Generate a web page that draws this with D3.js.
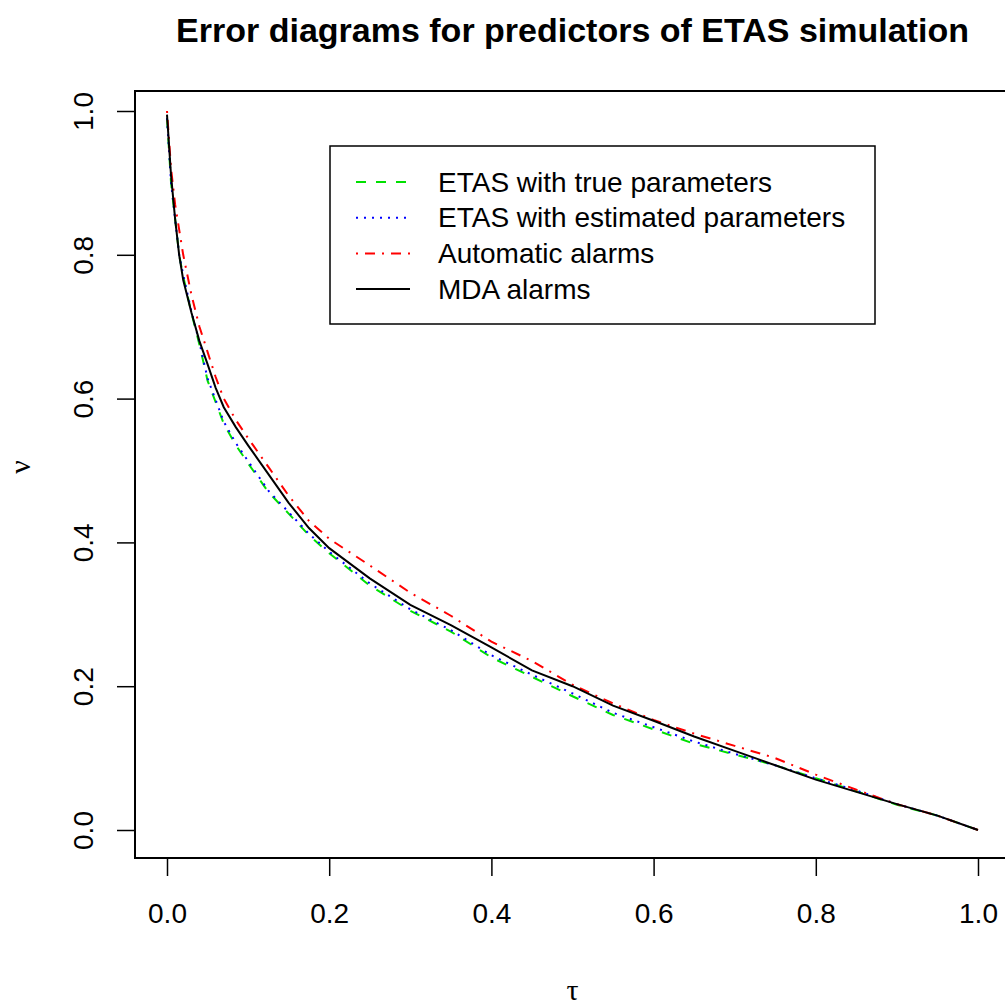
<!DOCTYPE html>
<html>
<head>
<meta charset="utf-8">
<script src="https://cdn.jsdelivr.net/npm/d3@7"></script>
<style>
  body { margin: 0; background: #fff; }
  svg { display: block; }
</style>
</head>
<body>
<div id="chart"></div>
<script>
// tau grid shared by the four error curves
const tau = [0, 0.005, 0.01, 0.015, 0.02, 0.03, 0.04, 0.05, 0.06, 0.07, 0.085, 0.1, 0.125, 0.15, 0.175, 0.2, 0.25,
  0.3, 0.35, 0.4, 0.45, 0.5, 0.55, 0.6, 0.65, 0.7, 0.75, 0.8, 0.85, 0.9, 0.95, 1.0];

const etasTrue = [0.99, 0.90, 0.85, 0.80, 0.77, 0.72, 0.675, 0.625, 0.595, 0.565, 0.535, 0.51, 0.47, 0.44, 0.41, 0.385, 0.34,
  0.305, 0.276, 0.24, 0.213, 0.186, 0.16, 0.14, 0.12, 0.105, 0.09, 0.072, 0.054, 0.035, 0.02, 0.0];
const etasEst = [0.99, 0.90, 0.85, 0.80, 0.772, 0.722, 0.678, 0.628, 0.598, 0.568, 0.538, 0.513, 0.472, 0.442, 0.412, 0.387, 0.343,
  0.307, 0.278, 0.243, 0.216, 0.19, 0.163, 0.143, 0.123, 0.106, 0.09, 0.072, 0.055, 0.036, 0.02, 0.0];
const autoAlarm = [1.0, 0.92, 0.87, 0.835, 0.80, 0.745, 0.70, 0.665, 0.63, 0.60, 0.57, 0.545, 0.505, 0.465, 0.43, 0.405, 0.368,
  0.33, 0.298, 0.262, 0.235, 0.202, 0.176, 0.153, 0.134, 0.117, 0.1, 0.077, 0.056, 0.036, 0.02, 0.0];
const mdaAlarm = [0.995, 0.91, 0.85, 0.80, 0.765, 0.72, 0.68, 0.648, 0.615, 0.588, 0.56, 0.535, 0.495, 0.455, 0.42, 0.392, 0.35,
  0.313, 0.285, 0.254, 0.222, 0.2, 0.173, 0.152, 0.13, 0.11, 0.09, 0.07, 0.053, 0.036, 0.02, 0.0];

const xTicks = [0, 0.2, 0.4, 0.6, 0.8, 1.0];
const yTicks = [0, 0.2, 0.4, 0.6, 0.8, 1.0];

const series = [
  { name: "ETAS with true parameters", values: etasTrue, color: "#00e000", dash: "10,10" },
  { name: "ETAS with estimated parameters", values: etasEst, color: "#0000ff", dash: "2,6" },
  { name: "Automatic alarms", values: autoAlarm, color: "#ff0000", dash: "2,7,10,7" },
  { name: "MDA alarms", values: mdaAlarm, color: "#000000", dash: null }
];

const width = 1005, height = 1005;
const box = { left: 135, right: 1010, top: 91, bottom: 858 };
const sans = "'Liberation Sans', Arial, sans-serif";

const svg = d3.select("#chart").append("svg")
  .attr("width", width)
  .attr("height", height)
  .style("font-family", sans);

const x = d3.scaleLinear().domain([0, 1]).range([167, 978]);
const y = d3.scaleLinear().domain([0, 1]).range([830, 111]);

// plot frame
svg.append("rect")
  .attr("x", box.left).attr("y", box.top)
  .attr("width", box.right - box.left).attr("height", box.bottom - box.top)
  .attr("fill", "none").attr("stroke", "#000").attr("stroke-width", 2);

// axes
const xAxis = svg.append("g")
  .attr("transform", "translate(0," + box.bottom + ")")
  .call(d3.axisBottom(x).tickValues(xTicks).tickSize(18).tickFormat(d3.format(".1f")));
xAxis.select(".domain").remove();
xAxis.selectAll("line").attr("stroke-width", 1.5);
xAxis.selectAll("text")
  .attr("y", 55).attr("dy", 0)
  .attr("dominant-baseline", "central")
  .attr("font-size", 28).attr("font-family", sans);

const yAxis = svg.append("g")
  .attr("transform", "translate(" + box.left + ",0)")
  .call(d3.axisLeft(y).tickValues(yTicks).tickSize(18).tickFormat(d3.format(".1f")));
yAxis.select(".domain").remove();
yAxis.selectAll("line").attr("stroke-width", 1.5);
yAxis.selectAll("text")
  .attr("x", 0).attr("dy", 0)
  .attr("transform", "translate(-52,0) rotate(-90)")
  .attr("text-anchor", "middle")
  .attr("dominant-baseline", "central")
  .attr("font-size", 28)
  .attr("font-family", sans);

// curves
const line = d3.line()
  .x((d, i) => x(tau[i]))
  .y(d => y(d));

svg.append("g").selectAll("path")
  .data(series)
  .join("path")
  .attr("d", s => line(s.values))
  .attr("fill", "none")
  .attr("stroke", s => s.color)
  .attr("stroke-width", 2)
  .attr("stroke-dasharray", s => s.dash);

// titles
svg.append("text")
  .attr("x", (box.left + box.right) / 2).attr("y", 42)
  .attr("text-anchor", "middle")
  .attr("font-size", 34).attr("font-weight", "bold")
  .text("Error diagrams for predictors of ETAS simulation");

svg.append("text")
  .attr("x", (box.left + box.right) / 2).attr("y", 1000)
  .attr("text-anchor", "middle")
  .attr("font-size", 30).attr("font-family", "'Liberation Serif', serif")
  .text("τ");

svg.append("text")
  .attr("transform", "translate(30,467) rotate(-90)")
  .attr("text-anchor", "middle")
  .attr("font-size", 30).attr("font-family", "'Liberation Serif', serif")
  .text("ν");

// legend
const legend = svg.append("g");
legend.append("rect")
  .attr("x", 330).attr("y", 146).attr("width", 545).attr("height", 178)
  .attr("fill", "#fff").attr("stroke", "#000").attr("stroke-width", 1.5);

const rows = legend.selectAll("g.row")
  .data(series)
  .join("g")
  .attr("class", "row")
  .attr("transform", (d, i) => "translate(0," + (182 + i * 35.7) + ")");

rows.append("line")
  .attr("x1", 356).attr("x2", 410)
  .attr("stroke", d => d.color)
  .attr("stroke-width", 2)
  .attr("stroke-dasharray", d => d.dash);

rows.append("text")
  .attr("x", 438).attr("y", 0)
  .attr("dominant-baseline", "central")
  .attr("font-size", 28)
  .text(d => d.name);
</script>
</body>
</html>
